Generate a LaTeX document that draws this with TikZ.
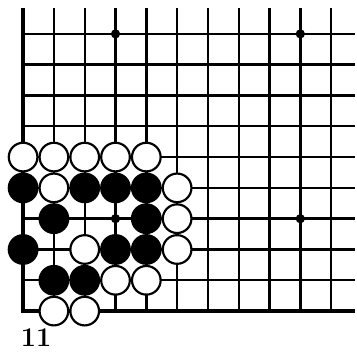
\documentclass[tikz,border=0pt]{standalone}
\usetikzlibrary{calc, positioning}

\begin{document}
\begin{tikzpicture}[
  gridline/.style={line width=2.2pt},
  edgeline/.style={line width=3.2pt},
  stone/.style={circle, draw, line width=2pt, minimum size=0.93cm, inner sep=0pt},
  wstone/.style={stone, fill=white},
  bstone/.style={stone, fill=black},
  hoshi/.style={circle, fill=black, minimum size=0.3cm, inner sep=0pt}
]
\pgfmathsetmacro{\xmax}{10.78}
\pgfmathsetmacro{\ymax}{9.84}

\useasboundingbox (-0.75,-1.40) rectangle (10.84,10.10);

\coordinate (O) at (0,0);
\coordinate (T) at (0,\ymax);
\coordinate (R) at (\xmax,0);

\foreach \i in {1,...,10}
  \draw[gridline] (\i,0) -- (\i,\ymax);
\foreach \j in {1,...,9}
  \draw[gridline] (0,\j) -- (\xmax,\j);
\draw[edgeline] (T) -- (O) -- (R);

\foreach \x/\y in {3/3, 9/3, 3/9, 9/9}
  \node[hoshi] (h-\x-\y) at (\x,\y) {};

\foreach \x/\y in {0/4, 2/4, 3/4, 4/4, 1/3, 4/3, 0/2, 3/2, 4/2, 1/1, 2/1}
  \node[bstone] (b-\x-\y) at (\x,\y) {};
\foreach \x/\y in {0/5, 1/5, 2/5, 3/5, 4/5, 1/4, 5/4, 5/3, 2/2, 5/2, 3/1, 4/1, 1/0, 2/0}
  \node[wstone] (w-\x-\y) at (\x,\y) {};

\node[inner sep=0pt] (diag) at (0.42,-0.85) {\bfseries\fontsize{25}{25}\selectfont 11};
\end{tikzpicture}
\end{document}
